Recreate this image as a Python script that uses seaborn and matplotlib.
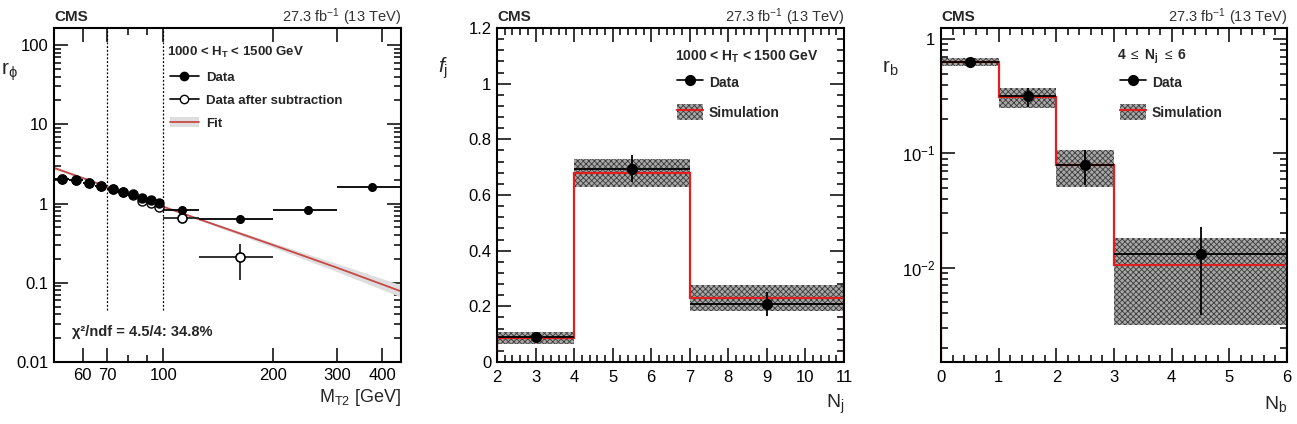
import matplotlib
matplotlib.use("Agg")
import matplotlib.pyplot as plt
import seaborn as sns
import pandas as pd
from matplotlib.lines import Line2D
from matplotlib.patches import Patch
from matplotlib.ticker import FixedLocator, LogLocator, MultipleLocator, NullFormatter

# ---- panel 1: r_phi vs MT2 ----
mt2_fine = [52.5, 57.5, 62.5, 67.5, 72.5, 77.5, 82.5, 87.5, 92.5, 97.5]
rphi_fine = [2.05, 2.00, 1.80, 1.65, 1.53, 1.40, 1.30, 1.17, 1.11, 1.01]
rphi_fine_sub = [2.04, 1.99, 1.79, 1.64, 1.52, 1.39, 1.28, 1.07, 1.02, 0.91]
mt2_wide_edges = [100, 125, 200, 300, 450]
mt2_wide = [112.5, 162.5, 250, 375]
rphi_wide = [0.83, 0.64, 0.84, 1.61]
rphi_wide_err = [0.05, 0.04, 0.05, 0.08]
mt2_sub = [112.5, 162.5]
rphi_sub = [0.66, 0.21]
rphi_sub_lo = [0.62, 0.107]
rphi_sub_hi = [0.70, 0.31]
fit_x = [50, 100, 200, 300, 450]
fit_y = [2.82, 0.91, 0.30, 0.155, 0.078]
fit_lo = [2.70, 0.90, 0.28, 0.138, 0.066]
fit_hi = [2.95, 0.93, 0.32, 0.175, 0.094]

# ---- panel 2: f_j vs Nj ----
nj_edges = [2, 4, 7, 11]
nj_centers = [3, 5.5, 9]
fj_data = [0.09, 0.695, 0.21]
fj_err = [0.012, 0.048, 0.043]
fj_sim = [0.088, 0.68, 0.229]
fj_sim_lo = [0.064, 0.63, 0.183]
fj_sim_hi = [0.106, 0.729, 0.277]

# ---- panel 3: r_b vs Nb ----
nb_edges = [0, 1, 2, 3, 6]
nb_centers = [0.5, 1.5, 2.5, 4.5]
rb_data = [0.625, 0.315, 0.080, 0.0131]
rb_data_lo = [0.60, 0.255, 0.0534, 0.0039]
rb_data_hi = [0.65, 0.373, 0.108, 0.0226]
rb_sim = [0.625, 0.31, 0.080, 0.0105]
rb_sim_lo = [0.576, 0.25, 0.051, 0.00313]
rb_sim_hi = [0.68, 0.373, 0.108, 0.0183]

sns.set_theme(style="ticks")
plt.rcParams["font.family"] = ["Liberation Sans", "DejaVu Sans"]
plt.rcParams["mathtext.fontset"] = "custom"
plt.rcParams["mathtext.rm"] = "Liberation Sans"
plt.rcParams["mathtext.it"] = "Liberation Sans:italic"
plt.rcParams["mathtext.bf"] = "Liberation Sans:bold"
plt.rcParams["hatch.linewidth"] = 0.6

W, H = 1297, 424
fig = plt.figure(figsize=(W / 100, H / 100), dpi=100)


def add_ax(x0, x1, y0=28, y1=362):
    return fig.add_axes([x0 / W, 1 - y1 / H, (x1 - x0) / W, (y1 - y0) / H])


def style_ax(ax):
    for s in ax.spines.values():
        s.set_linewidth(1.5)
        s.set_color("black")
    ax.tick_params(which="both", direction="in", top=True, right=True, colors="black",
                   labelsize=12, width=1.1)
    ax.tick_params(which="major", length=10, pad=4)
    ax.tick_params(which="minor", length=5)


def header(x0, x1):
    fig.text(x0 / W, 1 - 17 / H, "CMS", fontsize=11, fontweight="bold", va="center", ha="left")
    fig.text(x1 / W, 1 - 17 / H, r"27.3 fb$^{-1}$ (13 TeV)", fontsize=10.5,
             color="#333333", va="center", ha="right")


red = "#e02020"
band_kw = dict(facecolor="#a8a8a8", hatch="xxxxxx", edgecolor="#3a3a3a", linewidth=0)

# ===================== panel 1 =====================
ax1 = add_ax(54, 401)
style_ax(ax1)
ax1.set_xscale("log")
ax1.set_yscale("log")
ax1.fill_between(fit_x, fit_lo, fit_hi, color="#dedede", lw=0, zorder=1)
fit_df = pd.DataFrame({"x": fit_x, "y": fit_y})
sns.lineplot(data=fit_df, x="x", y="y", ax=ax1, color="#c84848", lw=1.3, zorder=2)
ax1.vlines([70, 100], 0.045, 200, colors="black", linestyles=(0, (1.5, 1.5)), lw=0.9, zorder=1)

ax1.errorbar(mt2_fine, rphi_fine_sub, xerr=2.5, fmt="o", ms=6.5, mfc="white", mec="black",
             color="black", lw=1.1, zorder=3)
ax1.errorbar(mt2_fine, rphi_fine, xerr=2.5, yerr=0.03, fmt="o", ms=6.5, color="black",
             lw=1.1, zorder=4)
sub_lo = [v - lo for v, lo in zip(rphi_sub, rphi_sub_lo)]
sub_hi = [hi - v for v, hi in zip(rphi_sub, rphi_sub_hi)]
ax1.errorbar(mt2_sub, rphi_sub, xerr=[[12.5, 37.5], [12.5, 37.5]], yerr=[sub_lo, sub_hi],
             fmt="o", ms=6.5, mfc="white", mec="black", mew=1.2, color="#222222", lw=1.3, zorder=3)
wide_xerr = [[c - a for c, a in zip(mt2_wide, mt2_wide_edges[:-1])],
             [b - c for c, b in zip(mt2_wide, mt2_wide_edges[1:])]]
ax1.errorbar(mt2_wide, rphi_wide, xerr=wide_xerr, yerr=rphi_wide_err, fmt="o", ms=5.5,
             color="black", lw=1.3, zorder=4)

ax1.set_xlim(50, 450)
ax1.set_ylim(0.01, 164)
ax1.xaxis.set_major_locator(FixedLocator([60, 70, 100, 200, 300, 400]))
ax1.set_xticklabels(["60", "70", "100", "200", "300", "400"])
ax1.xaxis.set_minor_locator(FixedLocator([50, 80, 90]))
ax1.xaxis.set_minor_formatter(NullFormatter())
ax1.set_yticks([0.01, 0.1, 1, 10, 100], labels=["0.01", "0.1", "1", "10", "100"])
ax1.yaxis.set_minor_locator(LogLocator(subs=range(2, 10)))
ax1.yaxis.set_minor_formatter(NullFormatter())

ax1.text(0.326, 0.928, r"1000 < H$_{\mathbf{T}}$ < 1500 GeV", transform=ax1.transAxes,
         fontsize=9.5, fontweight="bold", va="center")
ax1.text(0.052, 0.09, "χ²/ndf = 4.5/4: 34.8%", transform=ax1.transAxes,
         fontsize=10.5, fontweight="bold", va="center")
h_data = Line2D([], [], color="black", marker="o", ms=6, lw=1.2)
h_sub = Line2D([], [], color="black", marker="o", ms=6, mfc="white", lw=1.2)
h_fit = (Patch(facecolor="#dedede", lw=0), Line2D([], [], color="#c84848", lw=1.3))
ax1.legend([h_data, h_sub, h_fit], ["Data", "Data after subtraction", "Fit"],
           loc="upper left", bbox_to_anchor=(0.334, 0.869), frameon=False,
           prop={"weight": "bold", "size": 9.5}, handlelength=2.2, handletextpad=0.55,
           labelspacing=0.8, borderpad=0, borderaxespad=0)
header(54, 401)
fig.text(1 / W, 1 - 72 / H, r"r$_{\mathrm{ϕ}}$", fontsize=15, va="center", ha="left")
fig.text(401 / W, 1 - 397 / H, r"M$_{\mathrm{T2}}$ [GeV]", fontsize=13, va="center", ha="right")

# ===================== panel 2 =====================
ax2 = add_ax(497, 844)
style_ax(ax2)
ax2.fill_between(nj_edges, fj_sim_lo + [fj_sim_lo[-1]], fj_sim_hi + [fj_sim_hi[-1]],
                 step="post", zorder=1, **band_kw)
ax2.errorbar(nj_centers, fj_data, xerr=[[1, 1.5, 2], [1, 1.5, 2]], yerr=fj_err, fmt="o",
             ms=7, color="black", lw=1.3, zorder=3)
ax2.stairs(fj_sim, nj_edges, color=red, lw=1.6, zorder=2)
ax2.set_xlim(2, 11)
ax2.set_ylim(0, 1.2)
ax2.xaxis.set_major_locator(MultipleLocator(1))
ax2.xaxis.set_minor_locator(MultipleLocator(0.2))
ax2.yaxis.set_minor_locator(MultipleLocator(0.04))
ax2.set_yticks([0, 0.2, 0.4, 0.6, 0.8, 1.0, 1.2], labels=["0", "0.2", "0.4", "0.6", "0.8", "1", "1.2"])
ax2.tick_params(axis="x", pad=6)
ax2.text(0.513, 0.913, r"1000 < H$_{\mathbf{T}}$ < 1500 GeV", transform=ax2.transAxes,
         fontsize=10, fontweight="bold", va="center")
h_sim = (Patch(**band_kw), Line2D([], [], color=red, lw=1.6))
h_data2 = Line2D([], [], color="black", marker="o", ms=7, lw=1.2)
leg_kw = dict(loc="upper left", frameon=False, prop={"weight": "bold", "size": 10},
              handlelength=1.9, handleheight=1.4, handletextpad=0.4, labelspacing=1.0,
              borderpad=0, borderaxespad=0)
ax2.legend([h_data2, h_sim], ["Data", "Simulation"], bbox_to_anchor=(0.519, 0.862), **leg_kw)
header(497, 844)
fig.text(438 / W, 1 - 68 / H, r"$f_{\mathrm{j}}$", fontsize=15, va="center", ha="left")
fig.text(844 / W, 1 - 404 / H, r"N$_{\mathrm{j}}$", fontsize=14, va="center", ha="right")

# ===================== panel 3 =====================
ax3 = add_ax(941, 1287)
style_ax(ax3)
ax3.set_yscale("log")
ax3.fill_between(nb_edges, rb_sim_lo + [rb_sim_lo[-1]], rb_sim_hi + [rb_sim_hi[-1]],
                 step="post", zorder=1, **band_kw)
rb_yerr = [[v - lo for v, lo in zip(rb_data, rb_data_lo)],
           [hi - v for v, hi in zip(rb_data, rb_data_hi)]]
ax3.errorbar(nb_centers, rb_data, xerr=[[0.5, 0.5, 0.5, 1.5], [0.5, 0.5, 0.5, 1.5]],
             yerr=rb_yerr, fmt="o", ms=7, color="black", lw=1.3, zorder=3)
ax3.stairs(rb_sim, nb_edges, color=red, lw=1.6, zorder=2)
ax3.set_xlim(0, 6)
ax3.set_ylim(0.0015, 1.25)
ax3.xaxis.set_major_locator(MultipleLocator(1))
ax3.xaxis.set_minor_locator(MultipleLocator(0.2))
ax3.set_yticks([0.01, 0.1, 1], labels=[r"10$^{-2}$", r"10$^{-1}$", "1"])
ax3.yaxis.set_minor_locator(LogLocator(subs=range(2, 10)))
ax3.yaxis.set_minor_formatter(NullFormatter())
ax3.tick_params(axis="x", pad=6)
ax3.text(0.509, 0.913, r"4 $\leq$ N$_{\mathbf{j}}$ $\leq$ 6", transform=ax3.transAxes,
         fontsize=10, fontweight="bold", va="center")
ax3.legend([h_data2, h_sim], ["Data", "Simulation"], bbox_to_anchor=(0.517, 0.862), **leg_kw)
header(941, 1287)
fig.text(882 / W, 1 - 68 / H, r"r$_{\mathrm{b}}$", fontsize=15, va="center", ha="left")
fig.text(1287 / W, 1 - 404 / H, r"N$_{\mathrm{b}}$", fontsize=14, va="center", ha="right")

for ax in (ax1, ax2, ax3):
    ax.set_xlabel("")
    ax.set_ylabel("")

fig.savefig("out.png", dpi=100)
